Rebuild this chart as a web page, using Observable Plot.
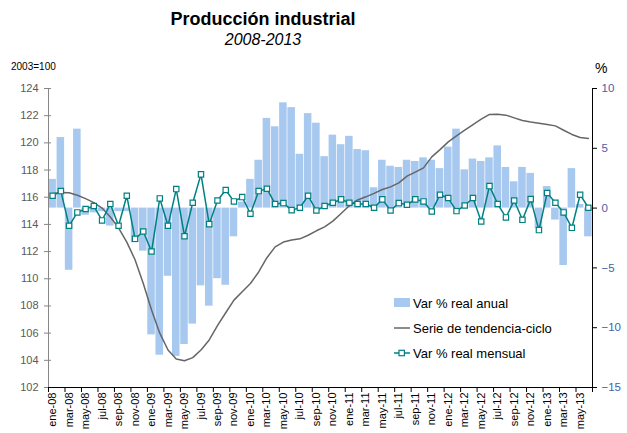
<!DOCTYPE html>
<html><head><meta charset="utf-8">
<script src="https://cdn.jsdelivr.net/npm/d3@7"></script>
<script src="https://cdn.jsdelivr.net/npm/@observablehq/plot@0.6"></script>
<style>
body{margin:0;background:#fff;font-family:"Liberation Sans",Arial,sans-serif;}
#wrap{position:relative;width:627px;height:433px;overflow:hidden;}
#chart{position:absolute;left:0;top:0;}
.t{position:absolute;white-space:nowrap;line-height:1;}
.lg{position:absolute;font-size:13px;line-height:1;white-space:nowrap;color:#000;}
</style></head><body>
<div id="wrap">
<div id="chart"></div>
<div class="t" style="left:0;width:526px;top:10px;text-align:center;font-weight:bold;font-size:18px;">Producción industrial</div>
<div class="t" style="left:0;width:526px;top:32px;text-align:center;font-style:italic;font-size:16px;">2008-2013</div>
<div class="t" style="left:11px;top:62px;font-size:10px;">2003=100</div>
<div class="t" style="left:595px;top:61px;font-size:14px;">%</div>
<div class="lg" style="left:394px;top:297px;"><svg width="17" height="10" style="position:absolute;left:0;top:1px"><rect x="0" y="0" width="16" height="9" fill="#a7c8ef"/></svg><span style="position:absolute;left:19px;top:0">Var % real anual</span></div>
<div class="lg" style="left:394px;top:322px;"><svg width="17" height="10" style="position:absolute;left:0;top:1px"><line x1="0" y1="5" x2="16" y2="5" stroke="#666" stroke-width="1.5"/></svg><span style="position:absolute;left:19px;top:0">Serie de tendencia-ciclo</span></div>
<div class="lg" style="left:394px;top:347px;"><svg width="17" height="10" style="position:absolute;left:0;top:1px"><line x1="0" y1="5" x2="16" y2="5" stroke="#008080" stroke-width="1.5"/><rect x="5" y="2.3" width="5.4" height="5.4" fill="#fff" stroke="#008080" stroke-width="1.2"/></svg><span style="position:absolute;left:19px;top:0">Var % real mensual</span></div>
</div>
<script>
const months = ["ene-08","feb-08","mar-08","abr-08","may-08","jun-08","jul-08","ago-08","sep-08","oct-08","nov-08","dic-08",
"ene-09","feb-09","mar-09","abr-09","may-09","jun-09","jul-09","ago-09","sep-09","oct-09","nov-09","dic-09",
"ene-10","feb-10","mar-10","abr-10","may-10","jun-10","jul-10","ago-10","sep-10","oct-10","nov-10","dic-10",
"ene-11","feb-11","mar-11","abr-11","may-11","jun-11","jul-11","ago-11","sep-11","oct-11","nov-11","dic-11",
"ene-12","feb-12","mar-12","abr-12","may-12","jun-12","jul-12","ago-12","sep-12","oct-12","nov-12","dic-12",
"ene-13","feb-13","mar-13","abr-13","may-13","jun-13"];

const varAnual = [2.4,5.9,-5.2,6.6,-0.6,-0.4,-0.3,-1.5,-0.3,-0.3,-2.9,-3.6,
-10.6,-12.3,-5.7,-12.4,-11.4,-9.7,-6.5,-8.2,-5.9,-6.45,-2.4,0.5,
2.4,4.0,7.5,6.8,8.8,8.4,4.5,7.9,7.1,4.3,6.1,5.3,
6.0,4.9,4.8,1.7,4.0,3.5,3.4,4.0,3.9,4.2,4.0,3.3,
5.1,6.6,3.2,4.1,3.9,4.2,5.2,3.4,2.2,3.4,2.9,-1.7,
1.8,-1.0,-4.8,3.3,0.3,-2.4];

const tendencia = [116.25,116.35,116.33,116.15,115.9,115.6,115.2,114.55,113.75,112.7,111.4,109.65,
107.7,106.0,104.76,104.1,103.97,104.2,104.76,105.5,106.55,107.5,108.43,109.05,
109.65,110.5,111.55,112.35,112.7,112.85,112.94,113.2,113.53,113.82,114.24,114.8,
115.37,115.8,116.03,116.28,116.57,116.76,117.06,117.55,117.85,118.16,118.97,119.5,
120.07,120.52,120.93,121.35,121.74,122.09,122.1,122.04,121.84,121.65,121.54,121.45,
121.35,121.25,120.93,120.62,120.4,120.32];

const varMensual = [1.03,1.42,-1.48,-0.36,-0.08,0.17,-1.03,0.34,-1.48,1.03,-2.57,-1.96,
-3.63,0.81,-1.48,1.59,-2.35,0.45,2.82,-1.34,0.64,1.51,0.56,0.92,
-0.47,1.42,1.62,0.34,0.42,-0.17,0.03,1.03,-0.2,0.17,0.45,0.73,
0.45,0.34,0.34,0.03,0.73,-0.2,0.42,0.28,0.73,0.56,-0.28,1.12,
0.84,-0.25,0.22,0.84,-1.12,1.84,0.34,-0.78,0.64,-0.98,0.75,-1.84,
1.26,0.45,-0.36,-1.65,1.12,0.03];

const leftTicks = [102,104,106,108,110,112,114,116,118,120,122,124];
const rightTicks = [-15,-10,-5,0,5,10];

// map left (index) axis onto right (%) axis
const L0 = 102, L1 = 124, R0 = -15, R1 = 10;
const toR = v => R0 + (v - L0) * (R1 - R0) / (L1 - L0);
const toL = r => L0 + (r - R0) * (L1 - L0) / (R1 - R0);

const data = months.map((m, i) => ({i, m, anual: varAnual[i], trend: toR(tendencia[i]), mensual: varMensual[i]}));
const n = months.length;

const chart = Plot.plot({
  width: 627, height: 433,
  marginLeft: 48, marginRight: 35, marginTop: 88, marginBottom: 46,
  style: {fontFamily: '"Liberation Sans", Arial, sans-serif', fontSize: "11px", background: "transparent"},
  x: {domain: [0, n], axis: null},
  y: {domain: [R0, R1], axis: null},
  marks: [
    Plot.rectY(data, {x1: d => d.i, x2: d => d.i + 1, y1: 0, y2: "anual", fill: "#a7c8ef", insetLeft: 0.35, insetRight: 0.35}),
    Plot.line(data, {x: d => d.i + 0.5, y: "trend", stroke: "#666666", strokeWidth: 1.5}),
    Plot.line(data, {x: d => d.i + 0.5, y: "mensual", stroke: "#008080", strokeWidth: 1.5}),
    Plot.dot(data, {x: d => d.i + 0.5, y: "mensual", symbol: "square", r: 3, fill: "#ffffff", stroke: "#008080", strokeWidth: 1.2}),
    // left axis
    Plot.ruleX([0], {stroke: "#868686"}),
    Plot.axisY(leftTicks.map(toR), {anchor: "left", tickSize: 4, tickPadding: 6, stroke: "#868686", fill: "#595959", tickFormat: d => Math.round(toL(d)), label: null, fontSize: 11}),
    Plot.axisY(leftTicks.map(toR), {anchor: "left", tickSize: -3, stroke: "#868686", tickFormat: () => "", label: null}),
    // right axis
    Plot.ruleX([n], {stroke: "#000"}),
    Plot.axisY(rightTicks, {anchor: "right", tickSize: 4, tickPadding: 5, stroke: "#000", fill: "#4760a8", label: null, fontSize: 11.5}),
    // bottom axis
    Plot.ruleY([R0], {stroke: "#000"}),
    Plot.axisX(d3.range(0, n + 1, 2), {anchor: "bottom", tickSize: 5, stroke: "#000", tickFormat: () => "", label: null}),
    Plot.axisX(d3.range(0.5, n, 2), {anchor: "bottom", tickSize: 0, tickPadding: 5, tickRotate: -90, fill: "#000", tickFormat: d => months[Math.floor(d)], label: null, fontSize: 11})
  ]
});
document.getElementById("chart").appendChild(chart);
</script>
</body></html>
